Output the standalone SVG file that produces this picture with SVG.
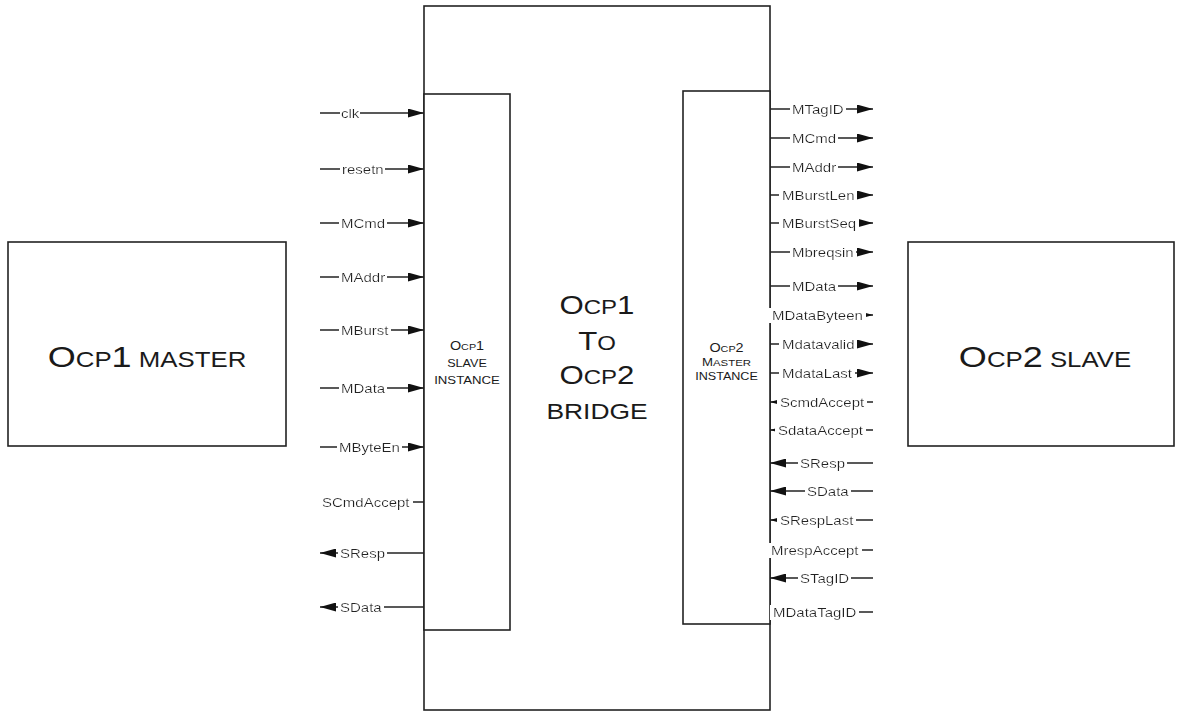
<svg xmlns="http://www.w3.org/2000/svg" width="1180" height="711" viewBox="0 0 1180 711">
<style>
.box{fill:#fff;stroke:#222;stroke-width:1.6}
.sig{stroke:#222;stroke-width:1.3;fill:none}
.lbl{font-family:"Liberation Sans",Arial,sans-serif;font-size:12.5px;fill:#222}
.big{font-family:"Liberation Sans",Arial,sans-serif;fill:#1a1a1a}
</style>
<defs>
<marker id="arr" markerUnits="userSpaceOnUse" markerWidth="16" markerHeight="9" refX="16" refY="4.5" orient="auto">
<path d="M0,0 L16,4.5 L0,9 z" fill="#111"/>
</marker>
<filter id="bg" x="-0.03" y="0" width="1.06" height="1">
<feFlood flood-color="#fff" result="f"/>
<feMerge><feMergeNode in="f"/><feMergeNode in="SourceGraphic"/></feMerge>
</filter>
</defs>
<rect width="1180" height="711" fill="#fff"/>

<g id="ocp1-master">
<rect class="box" x="8" y="242" width="278" height="204"/>
<text class="big" transform="translate(147 367) scale(1.2 1)" text-anchor="middle"><tspan font-size="30">O</tspan><tspan font-size="21.5">CP</tspan><tspan font-size="30">1</tspan><tspan font-size="21.5"> MASTER</tspan></text>
</g>

<g id="ocp2-slave">
<rect class="box" x="908" y="242" width="266" height="204"/>
<text class="big" transform="translate(1045 367) scale(1.2 1)" text-anchor="middle"><tspan font-size="30">O</tspan><tspan font-size="21.5">CP</tspan><tspan font-size="30">2</tspan><tspan font-size="21.5"> SLAVE</tspan></text>
</g>

<g id="bridge">
<rect class="box" x="424" y="6" width="346" height="704"/>
<text class="big" transform="translate(597 314) scale(1.2 1)" text-anchor="middle"><tspan font-size="26">O</tspan><tspan font-size="20">CP</tspan><tspan font-size="26">1</tspan></text>
<text class="big" transform="translate(597 350) scale(1.2 1)" text-anchor="middle"><tspan font-size="26">T</tspan><tspan font-size="20">O</tspan></text>
<text class="big" transform="translate(597 384) scale(1.2 1)" text-anchor="middle"><tspan font-size="26">O</tspan><tspan font-size="20">CP</tspan><tspan font-size="26">2</tspan></text>
<text class="big" transform="translate(597 419) scale(1.2 1)" text-anchor="middle" font-size="22">BRIDGE</text>
</g>

<g id="slave-instance">
<rect class="box" x="424" y="94" width="86" height="536"/>
<text class="big" transform="translate(467 350) scale(1.2 1)" text-anchor="middle"><tspan font-size="12">O</tspan><tspan font-size="9">CP</tspan><tspan font-size="12">1</tspan></text>
<text class="big" transform="translate(467 367) scale(1.2 1)" text-anchor="middle" font-size="10.5">SLAVE</text>
<text class="big" transform="translate(467 384) scale(1.2 1)" text-anchor="middle" font-size="11">INSTANCE</text>
</g>

<g id="master-instance">
<rect class="box" x="683" y="91" width="87" height="533"/>
<text class="big" transform="translate(726.5 352) scale(1.2 1)" text-anchor="middle"><tspan font-size="12">O</tspan><tspan font-size="9">CP</tspan><tspan font-size="12">2</tspan></text>
<text class="big" transform="translate(726.5 366) scale(1.2 1)" text-anchor="middle"><tspan font-size="11">M</tspan><tspan font-size="9.5">ASTER</tspan></text>
<text class="big" transform="translate(726.5 380) scale(1.2 1)" text-anchor="middle" font-size="10.5">INSTANCE</text>
</g>

<g id="connectors">
<line class="sig" x1="320" y1="113" x2="424" y2="113" marker-end="url(#arr)"/>
<line class="sig" x1="320" y1="169" x2="424" y2="169" marker-end="url(#arr)"/>
<line class="sig" x1="320" y1="223" x2="424" y2="223" marker-end="url(#arr)"/>
<line class="sig" x1="320" y1="277" x2="424" y2="277" marker-end="url(#arr)"/>
<line class="sig" x1="320" y1="330" x2="424" y2="330" marker-end="url(#arr)"/>
<line class="sig" x1="320" y1="388" x2="424" y2="388" marker-end="url(#arr)"/>
<line class="sig" x1="320" y1="447" x2="424" y2="447" marker-end="url(#arr)"/>
<line class="sig" x1="320" y1="502" x2="424" y2="502"/>
<line class="sig" x1="424" y1="553" x2="320" y2="553" marker-end="url(#arr)"/>
<line class="sig" x1="424" y1="607" x2="320" y2="607" marker-end="url(#arr)"/>
<line class="sig" x1="770" y1="109" x2="873" y2="109" marker-end="url(#arr)"/>
<line class="sig" x1="770" y1="138" x2="873" y2="138" marker-end="url(#arr)"/>
<line class="sig" x1="770" y1="167" x2="873" y2="167" marker-end="url(#arr)"/>
<line class="sig" x1="770" y1="195" x2="873" y2="195" marker-end="url(#arr)"/>
<line class="sig" x1="770" y1="223" x2="873" y2="223" marker-end="url(#arr)"/>
<line class="sig" x1="770" y1="252" x2="873" y2="252" marker-end="url(#arr)"/>
<line class="sig" x1="770" y1="286" x2="873" y2="286" marker-end="url(#arr)"/>
<line class="sig" x1="770" y1="315" x2="873" y2="315" marker-end="url(#arr)"/>
<line class="sig" x1="770" y1="344" x2="873" y2="344" marker-end="url(#arr)"/>
<line class="sig" x1="770" y1="373" x2="873" y2="373" marker-end="url(#arr)"/>
<line class="sig" x1="873" y1="402" x2="770" y2="402" marker-end="url(#arr)"/>
<line class="sig" x1="873" y1="430" x2="770" y2="430" marker-end="url(#arr)"/>
<line class="sig" x1="873" y1="463" x2="770" y2="463" marker-end="url(#arr)"/>
<line class="sig" x1="873" y1="491" x2="770" y2="491" marker-end="url(#arr)"/>
<line class="sig" x1="873" y1="520" x2="770" y2="520" marker-end="url(#arr)"/>
<line class="sig" x1="770" y1="550" x2="873" y2="550"/>
<line class="sig" x1="873" y1="578" x2="770" y2="578" marker-end="url(#arr)"/>
<line class="sig" x1="770" y1="612" x2="873" y2="612"/>

<g class="lbl">
<text transform="translate(341 117.5) scale(1.2 1)" filter="url(#bg)">clk</text>
<text transform="translate(342 173.5) scale(1.2 1)" filter="url(#bg)">resetn</text>
<text transform="translate(341 227.5) scale(1.2 1)" filter="url(#bg)">MCmd</text>
<text transform="translate(341 281.5) scale(1.2 1)" filter="url(#bg)">MAddr</text>
<text transform="translate(341 334.5) scale(1.2 1)" filter="url(#bg)">MBurst</text>
<text transform="translate(341 392.5) scale(1.2 1)" filter="url(#bg)">MData</text>
<text transform="translate(339 451.5) scale(1.2 1)" filter="url(#bg)">MByteEn</text>
<text transform="translate(322 506.5) scale(1.2 1)" filter="url(#bg)">SCmdAccept</text>
<text transform="translate(340 557.5) scale(1.2 1)" filter="url(#bg)">SResp</text>
<text transform="translate(340 611.5) scale(1.2 1)" filter="url(#bg)">SData</text>
<text transform="translate(792 113.5) scale(1.2 1)" filter="url(#bg)">MTagID</text>
<text transform="translate(792 142.5) scale(1.2 1)" filter="url(#bg)">MCmd</text>
<text transform="translate(792 171.5) scale(1.2 1)" filter="url(#bg)">MAddr</text>
<text transform="translate(782 199.5) scale(1.2 1)" filter="url(#bg)">MBurstLen</text>
<text transform="translate(782 227.5) scale(1.2 1)" filter="url(#bg)">MBurstSeq</text>
<text transform="translate(792 256.5) scale(1.2 1)" filter="url(#bg)">Mbreqsin</text>
<text transform="translate(792 290.5) scale(1.2 1)" filter="url(#bg)">MData</text>
<text transform="translate(772 319.5) scale(1.2 1)" filter="url(#bg)">MDataByteen</text>
<text transform="translate(782 348.5) scale(1.2 1)" filter="url(#bg)">Mdatavalid</text>
<text transform="translate(782 377.5) scale(1.2 1)" filter="url(#bg)">MdataLast</text>
<text transform="translate(780 406.5) scale(1.2 1)" filter="url(#bg)">ScmdAccept</text>
<text transform="translate(778 434.5) scale(1.2 1)" filter="url(#bg)">SdataAccept</text>
<text transform="translate(800 467.5) scale(1.2 1)" filter="url(#bg)">SResp</text>
<text transform="translate(807 495.5) scale(1.2 1)" filter="url(#bg)">SData</text>
<text transform="translate(780 524.5) scale(1.2 1)" filter="url(#bg)">SRespLast</text>
<text transform="translate(771 554.5) scale(1.2 1)" filter="url(#bg)">MrespAccept</text>
<text transform="translate(800 582.5) scale(1.2 1)" filter="url(#bg)">STagID</text>
<text transform="translate(773 616.5) scale(1.2 1)" filter="url(#bg)">MDataTagID</text>
</g>
</g>
</svg>
